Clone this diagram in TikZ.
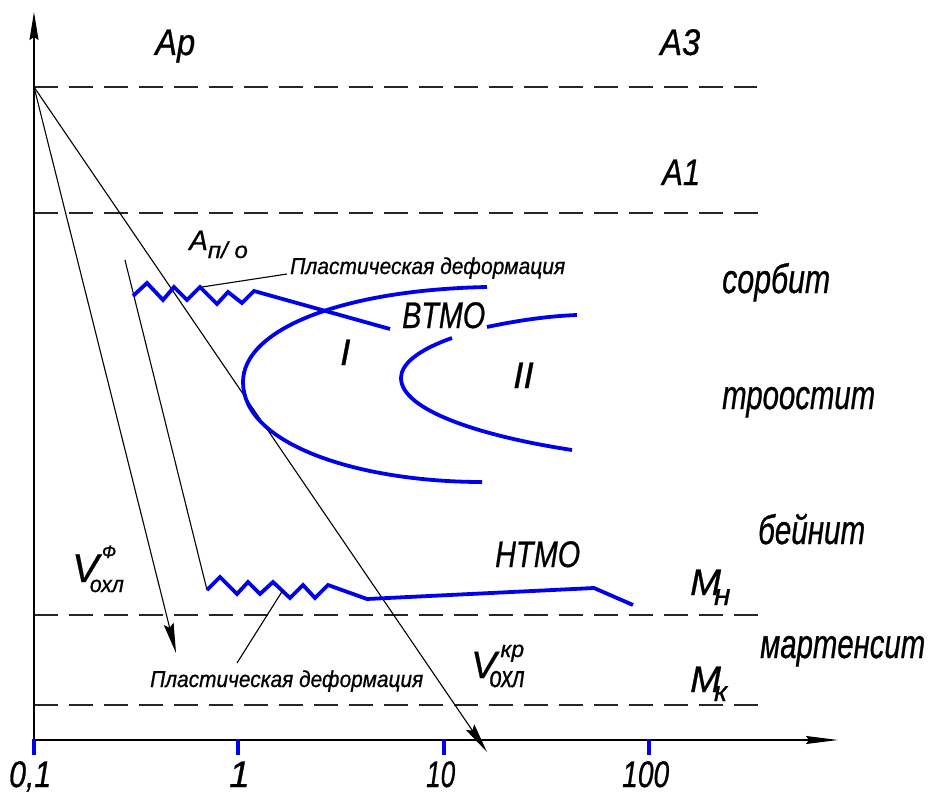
\documentclass[tikz,border=0pt]{standalone}
\usepackage{fontspec}
\usepackage{graphicx}
\usetikzlibrary{arrows.meta}
\newfontfamily\labfont{Liberation Sans}[FakeBold=0.8]
\newcommand\fs[1]{\fontsize{#1}{#1}\selectfont}
\newcommand\tw[2]{\resizebox{#1pt}{\height}{#2}}
\definecolor{cblue}{RGB}{0,0,235}
\begin{document}
\begin{tikzpicture}[x=1pt,y=-1pt,
  axis/.style={line width=1.4pt},
  guide/.style={line width=1.1pt, black!85, dash pattern=on 24pt off 11pt},
  thinline/.style={line width=1.1pt},
  bl/.style={draw=cblue, line width=3.8pt, line join=miter},
  tick/.style={draw=cblue, line width=3.8pt},
  tip/.style={-{Stealth[length=30pt,width=10pt,inset=4pt]}},
  lbl/.style={inner sep=0pt, anchor=base west, font={\labfont\itshape\fs{37}}},
  wlbl/.style={inner sep=0pt, anchor=base west, font={\labfont\itshape\fs{41}}},
  slbl/.style={inner sep=0pt, anchor=base west, font={\labfont\itshape\fs{23}}}]
\fill[white] (0,0) rectangle (930,795);
\useasboundingbox (0,0) rectangle (930,795);

% key points
\coordinate (O) at (34,87);
\coordinate (Yb) at (34,740);
\coordinate (Yt) at (34,12);
\coordinate (Xe) at (838,740);
\coordinate (Vkr) at (487,752);
\coordinate (Vf) at (176,653);
\coordinate (P1) at (125,260);
\coordinate (P2) at (207,590);

% dashed levels
\draw[guide] (34,87) -- (757,87);
\draw[guide] (34,213) -- (760,213);
\draw[guide] (34,615) -- (762,615);
\draw[guide] (34,705) -- (762,705);

% axes
\draw[axis,-{Stealth[length=28pt,width=9pt,inset=3pt]}] (Yb) -- (Yt);
\draw[axis,-{Stealth[length=32pt,width=8pt,inset=3pt]}] (Yb) -- (Xe);

% ticks
\draw[tick] (34,739) -- (34,755);
\draw[tick] (238,739) -- (238,755);
\draw[tick] (444,739) -- (444,755);
\draw[tick] (649,739) -- (649,755);

% cooling lines
\draw[thinline,tip] (O) -- (Vkr);
\draw[thinline,tip] (O) -- (Vf);
\draw[thinline] (P1) -- (P2);

% C-curves
\draw[bl] (487,287) .. controls (340,290) and (243,330) .. (243,382)
          .. controls (243,445) and (360,482) .. (482,482);
\draw[bl] (452,338) .. controls (418,350) and (401,364) .. (401,378)
          .. controls (401,410) and (480,436) .. (572,450);
\draw[bl] (487,327) .. controls (520,320) and (550,316) .. (577,315);

% upper zigzag (VTMO)
\draw[bl] (133,296) -- (147,283) -- (163,300) -- (174,287) -- (187,300) -- (200,287)
  -- (217,304) -- (228,292) -- (242,303) -- (254,291) -- (390,329);
% lower zigzag (NTMO)
\draw[bl] (P2) -- (220,577) -- (237,594) -- (248,582) -- (260,594) -- (273,582)
  -- (290,598) -- (303,585) -- (315,598) -- (328,585) -- (367,599) -- (594,588) -- (633,605);

% callouts
\coordinate (c1a) at (202,287);
\coordinate (c1b) at (287,274);
\coordinate (c2a) at (283,590);
\coordinate (c2b) at (237,663);
\draw[thinline] (c1a) -- (c1b);
\draw[thinline] (c2a) -- (c2b);
\node[slbl] (pd1) at (290,274) {\tw{275}{Пластическая деформация}};
\node[slbl] (pd2) at (150,687) {\tw{273}{Пластическая деформация}};

% labels
\node[lbl] (ap) at (155,55) {\tw{40}{Ap}};
\node[lbl] (a3) at (660,55) {\tw{40}{A3}};
\node[lbl] (a1) at (662,185) {\tw{38}{A1}};
\node[wlbl] (sorb) at (722,293) {\tw{108}{сорбит}};
\node[wlbl] (troo) at (722,409) {\tw{153}{троостит}};
\node[wlbl] (bein) at (758,544) {\tw{107}{бейнит}};
\node[wlbl] (mart) at (760,658) {\tw{165}{мартенсит}};
\node[lbl] (vtmo) at (402,328) {\tw{83}{BTMO}};
\node[lbl] (ntmo) at (495,567) {\tw{85}{НТМО}};
\node[lbl] (one) at (340,365) {I};
\node[lbl] (two) at (513,388) {II};

% A п/о
\node[inner sep=0pt, anchor=base west, font={\labfont\itshape\fs{28}}] (apo) at (189,250)
  {A\raisebox{-8pt}{\fs{23}\tw{40}{п/ о}}};

% Mн, Mк
\node[lbl] (mn) at (690,595) {M\kern-7pt\raisebox{-10pt}{\fs{30}н}};
\node[lbl] (mk) at (690,692) {M\kern-7pt\raisebox{-9pt}{\fs{28}к}};

% V кр охл
\node[inner sep=0pt, anchor=base west, font={\labfont\itshape\fs{38}}] (vk) at (471,678)
  {V\kern4pt\rlap{\raisebox{21pt}{\fs{23}кр}}\kern-11pt\raisebox{-9pt}{\fs{30}\tw{35}{охл}}};

% V Ф охл
\node[inner sep=0pt, anchor=base west, font={\labfont\itshape\fs{40}}] (vf) at (72,582)
  {V\kern3pt\rlap{\raisebox{24pt}{\fs{18}Ф}}\kern-12pt\raisebox{-10pt}{\fs{23}\tw{34}{охл}}};

% axis numbers
\node[lbl] (n01) at (9,787) {\tw{42}{0,1}};
\node[lbl] (n1) at (229,787) {1};
\node[lbl] (n10) at (426,787) {\tw{29}{10}};
\node[lbl] (n100) at (622,787) {\tw{47}{100}};
\end{tikzpicture}
\end{document}
